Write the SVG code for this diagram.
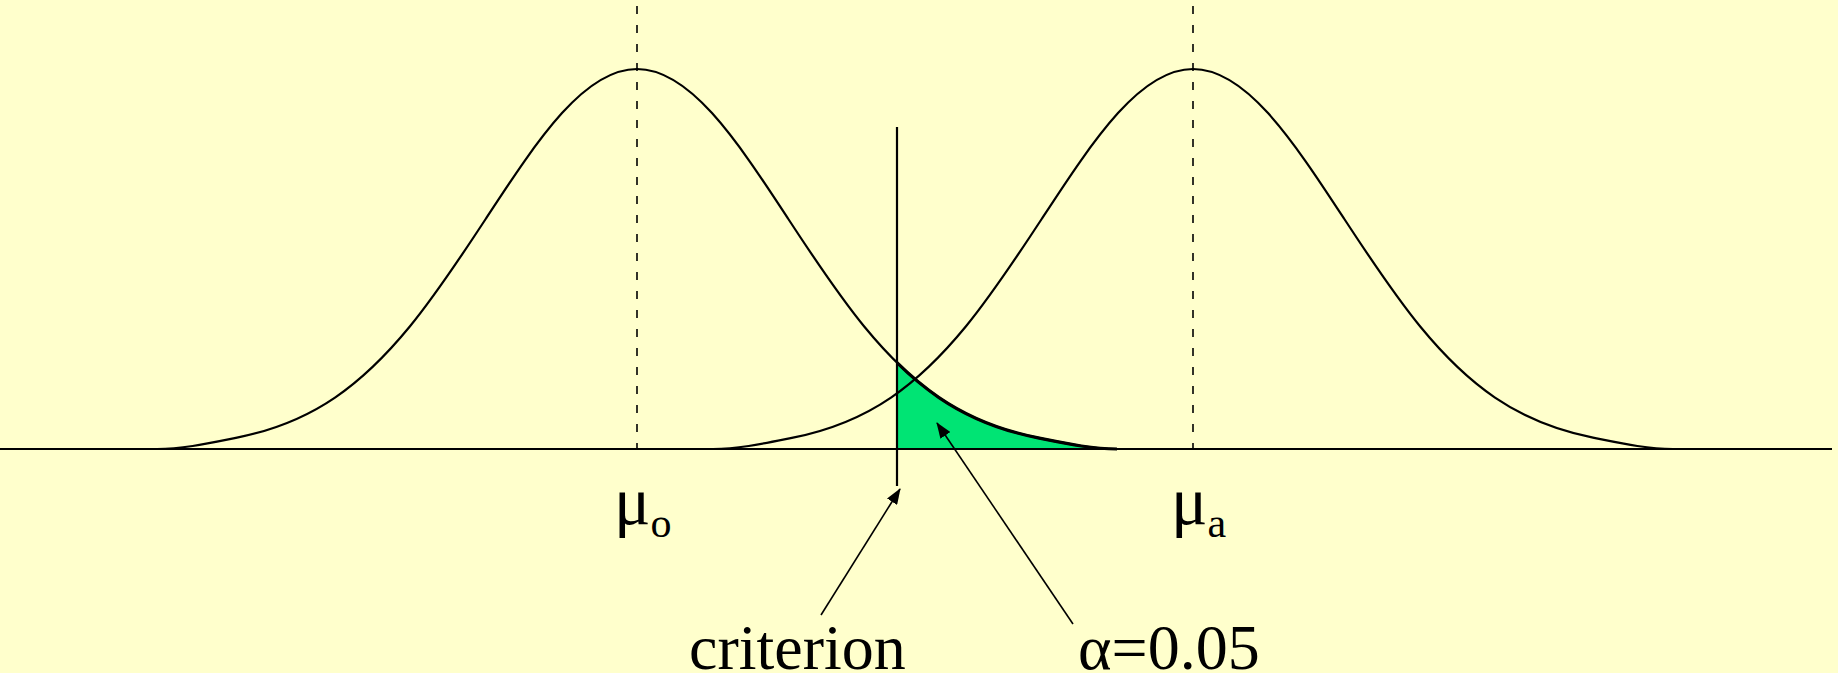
<svg xmlns="http://www.w3.org/2000/svg" width="1838" height="673" viewBox="0 0 1838 673">
  <style>
    .curve { fill: none; stroke: #000; stroke-width: 2.2; }
    .axis { stroke: #000; stroke-width: 2.2; fill: none; }
    .dash { stroke: #000; stroke-width: 1.6; stroke-dasharray: 8 11; fill: none; }
    .arrow { stroke: #000; stroke-width: 1.6; fill: none; marker-end: url(#head); }
    .lbl { font-family: "Liberation Serif", "Times New Roman", serif; fill: #000; }
  </style>
  <defs>
    <marker id="head" markerUnits="userSpaceOnUse" markerWidth="16" markerHeight="12" refX="15" refY="6" orient="auto">
      <path d="M0,0 L16,6 L0,12 Z" fill="#000"/>
    </marker>
    <path id="bell" d="M -480,449 C -453.33,449 -426.67,442.95 -400,437.63 C -367.33,431.11 -334.67,419.82 -302,397.57 C -277,380.54 -252,356.8 -227,326.25 C -201.67,295.29 -176.33,257.17 -151,218.5 C -125.67,179.83 -100.33,141.09 -75,113.1 C -50,85.475 -25,69 0,69 C 25,69 50,85.475 75,113.1 C 100.33,141.09 125.67,179.83 151,218.5 C 176.33,257.17 201.67,295.29 227,326.25 C 252,356.8 277,380.54 302,397.57 C 334.67,419.82 367.33,431.11 400,437.63 C 426.67,442.95 453.33,449 480,449"/>
  </defs>
  <rect x="0" y="0" width="1838" height="673" fill="#FFFFCC"/>

  <g id="alpha-region" transform="translate(637,0)">
    <path d="M 260,449 L 260,362.7 C 274,376.48 288,388.03 302,397.57 C 334.67,419.82 367.33,431.11 400,437.63 C 426.67,442.95 453.33,449 480,449 Z" fill="#00E474"/>
    <path d="M 260,362.7 C 274,376.48 288,388.03 302,397.57 C 334.67,419.82 367.33,431.11 400,437.63 C 426.67,442.95 453.33,449 480,449" fill="none" stroke="#000" stroke-width="3.2"/>
  </g>

  <g id="mean-lines">
    <line class="dash" x1="637" y1="6" x2="637" y2="449"/>
    <line class="dash" x1="1193" y1="6" x2="1193" y2="449"/>
  </g>

  <g id="null-distribution" transform="translate(637,0)">
    <use href="#bell" class="curve"/>
  </g>
  <g id="alt-distribution" transform="translate(1193,0)">
    <use href="#bell" class="curve"/>
  </g>

  <g id="axis">
    <line class="axis" x1="0" y1="449" x2="1832" y2="449"/>
  </g>

  <g id="criterion-line">
    <line class="axis" x1="897" y1="127" x2="897" y2="486"/>
  </g>

  <g id="labels">
    <text id="mu-o" class="lbl" x="614" y="524" font-size="68">μ<tspan font-size="42" dy="13">o</tspan></text>
    <text id="mu-a" class="lbl" x="1171" y="524" font-size="68">μ<tspan font-size="42" dy="13">a</tspan></text>
    <text id="criterion-label" class="lbl" x="689" y="669" font-size="64">criterion</text>
    <text id="alpha-label" class="lbl" x="1078" y="669" font-size="64">α=0.05</text>
  </g>

  <g id="connectors">
    <line class="arrow" x1="821" y1="615" x2="900" y2="489"/>
    <line class="arrow" x1="1073" y1="624" x2="937" y2="423"/>
  </g>
</svg>
